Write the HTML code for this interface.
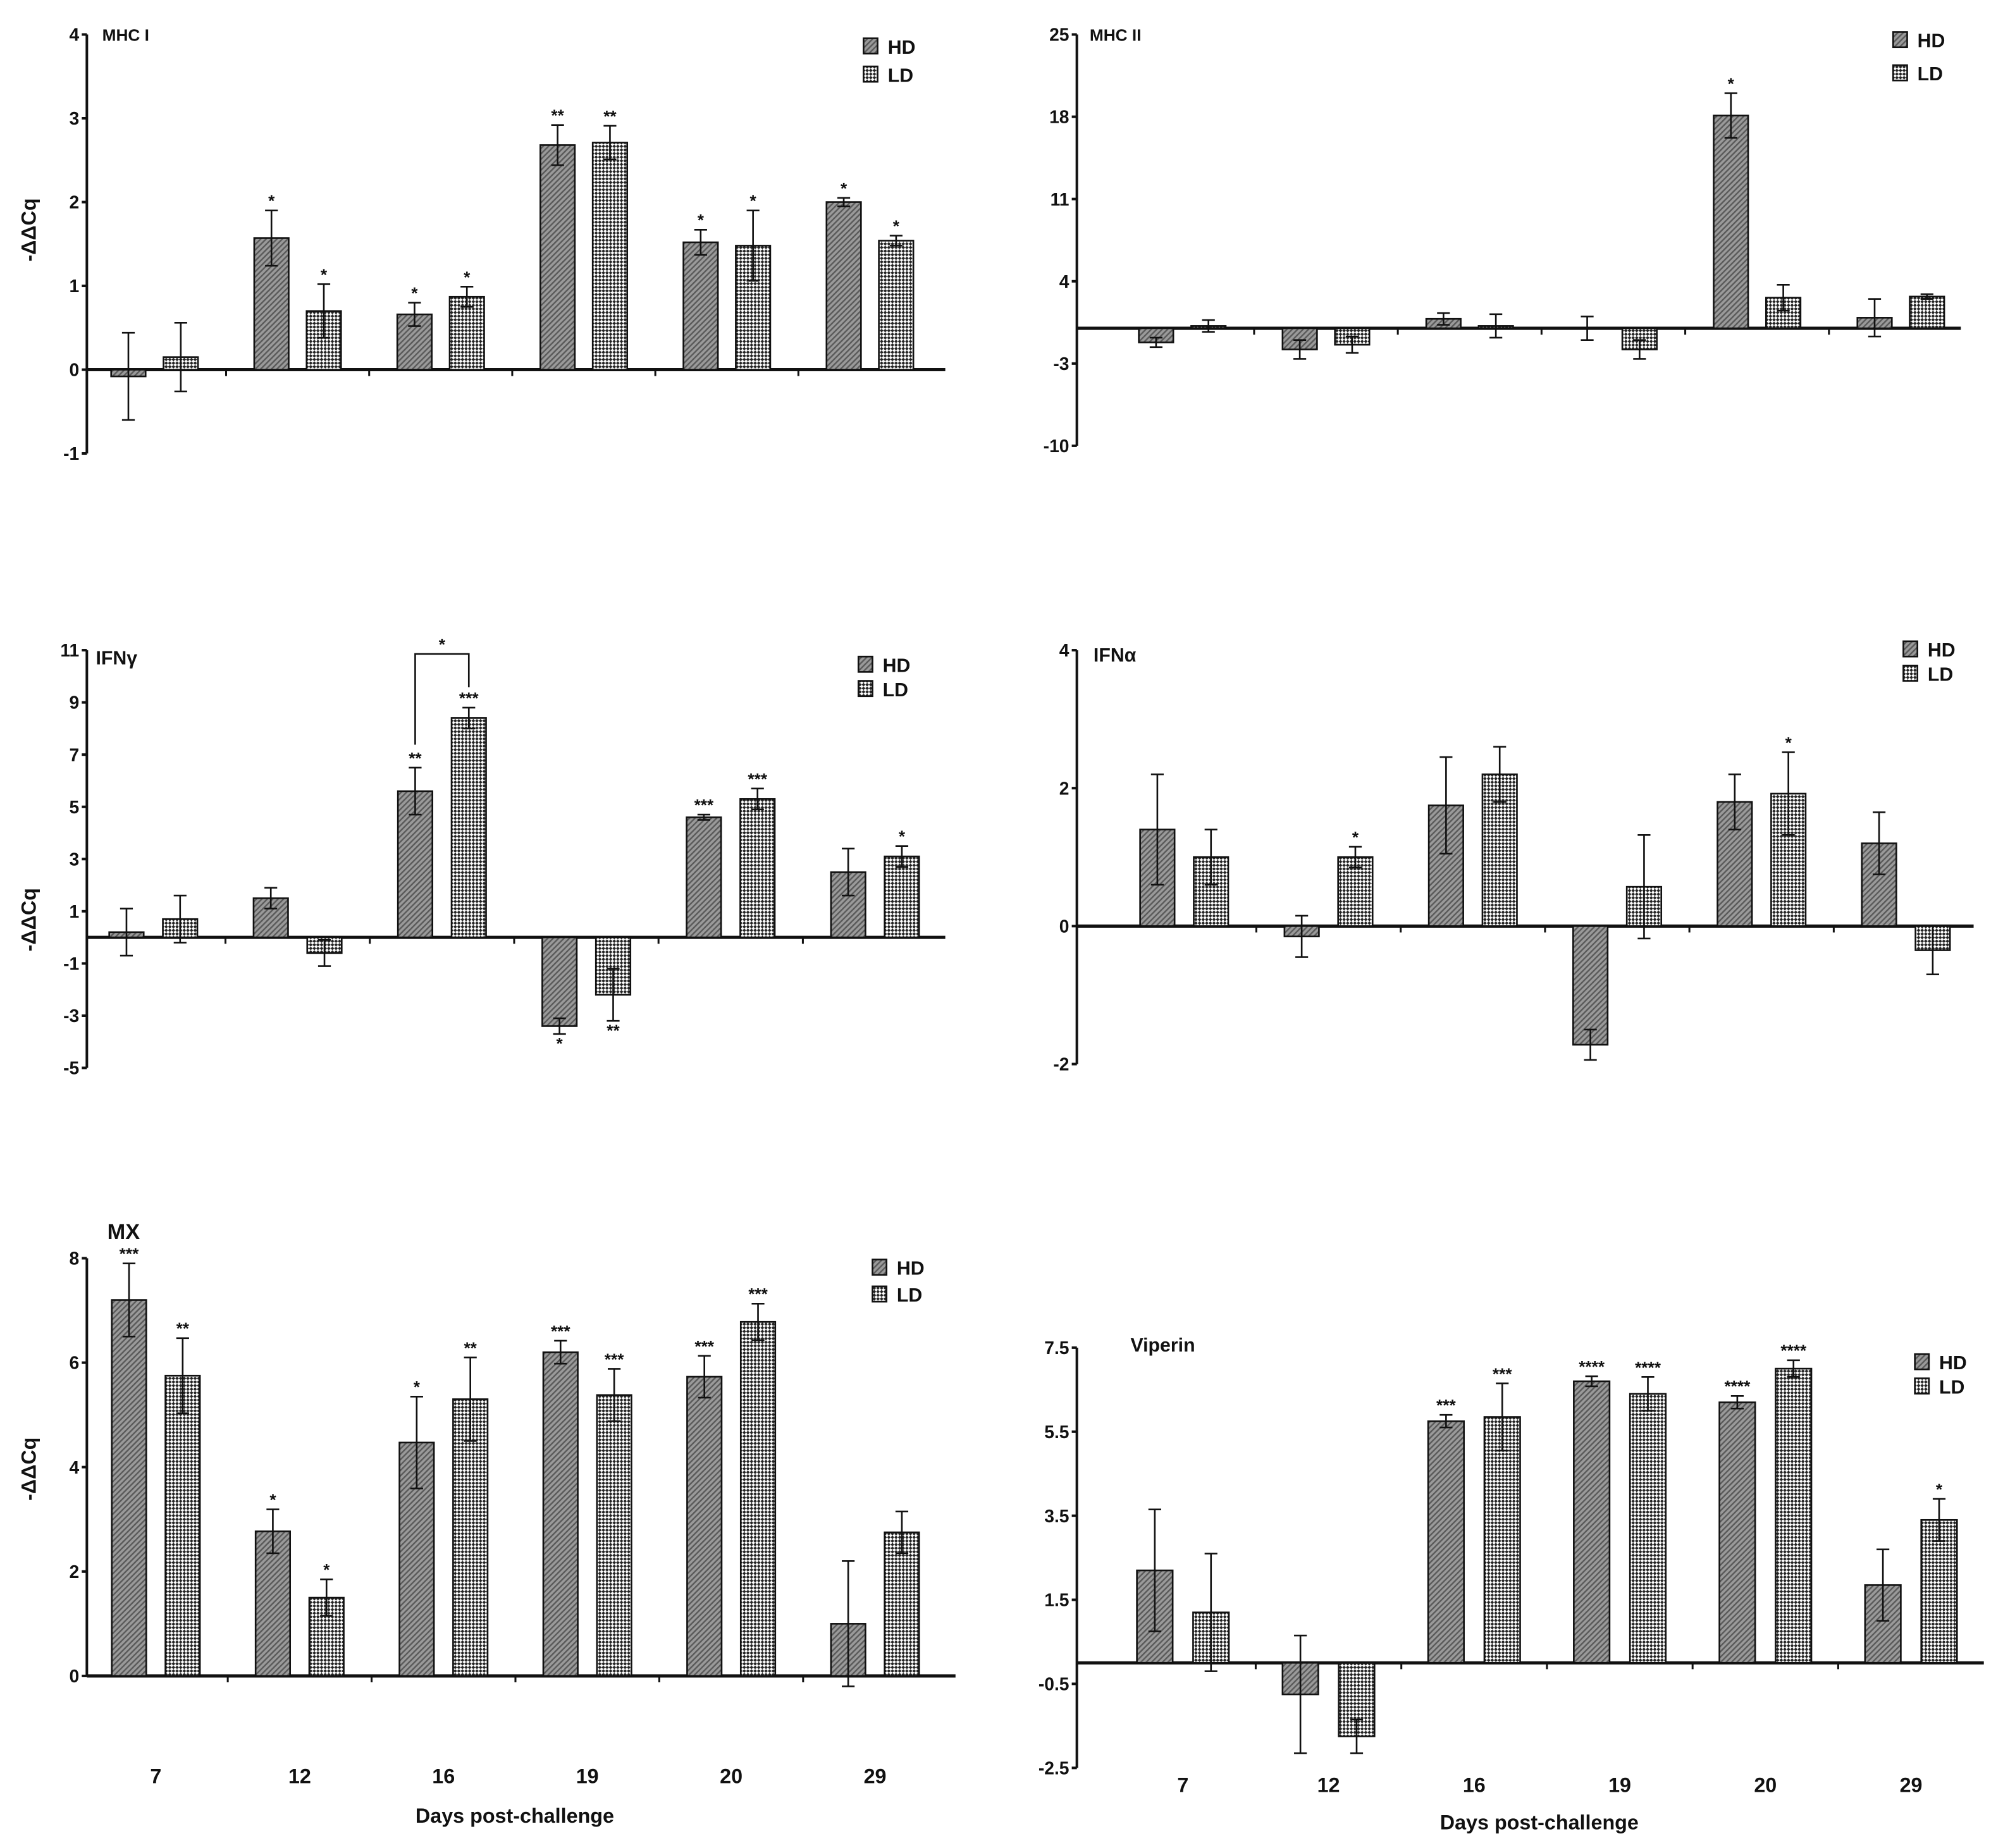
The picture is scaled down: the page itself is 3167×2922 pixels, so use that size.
<!DOCTYPE html>
<html><head><meta charset="utf-8">
<style>
html,body{margin:0;padding:0;background:#fff;}
svg{display:block;}
text{font-family:"Liberation Sans",Arial,sans-serif;font-weight:bold;fill:#111;}
</style></head>
<body>
<svg id="fig" width="3167" height="2922" viewBox="0 0 1568 1446.7" xmlns="http://www.w3.org/2000/svg">
<defs>
<pattern id="hatch" width="3" height="3" patternUnits="userSpaceOnUse" patternTransform="rotate(45)">
<rect width="3" height="3" fill="#9a9a9a"/><rect width="1.2" height="3" fill="#5a5a5a"/>
</pattern>
<pattern id="check" width="4" height="4" patternUnits="userSpaceOnUse" patternTransform="rotate(45)">
<rect width="4" height="4" fill="#fff"/><rect width="2" height="2" fill="#222"/><rect x="2" y="2" width="2" height="2" fill="#222"/>
</pattern>
</defs>
</svg>
<script>
const days = ["7","12","16","19","20","29"];
// MHC I
const mhc1HD = [-0.08,1.57,0.66,2.68,1.52,2.0];
const mhc1HDerr = [0.52,0.33,0.14,0.24,0.15,0.05];
const mhc1LD = [0.15,0.70,0.87,2.71,1.48,1.54];
const mhc1LDerr = [0.41,0.32,0.12,0.20,0.42,0.06];
const mhc1HDstar = ["","*","*","**","*","*"];
const mhc1LDstar = ["","*","*","**","*","*"];
const mhc1Ticks = [4,3,2,1,0,-1];
// MHC II
const mhc2HD = [-1.2,-1.8,0.8,0,18.1,0.9];
const mhc2HDerr = [0.4,0.8,0.5,1.0,1.9,1.6];
const mhc2LD = [0.2,-1.4,0.2,-1.8,2.6,2.7];
const mhc2LDerr = [0.5,0.7,1.0,0.8,1.1,0.2];
const mhc2HDstar = ["","","","","*",""];
const mhc2LDstar = ["","","","","",""];
const mhc2Ticks = [25,18,11,4,-3,-10];
// IFN gamma
const ifngHD = [0.2,1.5,5.6,-3.4,4.6,2.5];
const ifngHDerr = [0.9,0.4,0.9,0.3,0.1,0.9];
const ifngLD = [0.7,-0.6,8.4,-2.2,5.3,3.1];
const ifngLDerr = [0.9,0.5,0.4,1.0,0.4,0.4];
const ifngHDstar = ["","","**","*","***",""];
const ifngLDstar = ["","","***","**","***","*"];
const ifngTicks = [11,9,7,5,3,1,-1,-3,-5];
// IFN alpha
const ifnaHD = [1.4,-0.15,1.75,-1.72,1.8,1.2];
const ifnaHDerr = [0.8,0.3,0.7,0.22,0.4,0.45];
const ifnaLD = [1.0,1.0,2.2,0.57,1.92,-0.35];
const ifnaLDerr = [0.4,0.15,0.4,0.75,0.6,0.35];
const ifnaHDstar = ["","","","","",""];
const ifnaLDstar = ["","*","","","*",""];
const ifnaTicks = [4,2,0,-2];
// MX
const mxHD = [7.2,2.77,4.47,6.2,5.73,1.0];
const mxHDerr = [0.7,0.42,0.88,0.22,0.4,1.2];
const mxLD = [5.75,1.5,5.3,5.38,6.78,2.75];
const mxLDerr = [0.72,0.35,0.8,0.5,0.35,0.4];
const mxHDstar = ["***","*","*","***","***",""];
const mxLDstar = ["**","*","**","***","***",""];
const mxTicks = [8,6,4,2,0];
// Viperin
const vipHD = [2.2,-0.75,5.75,6.7,6.2,1.85];
const vipHDerr = [1.45,1.4,0.15,0.12,0.15,0.85];
const vipLD = [1.2,-1.75,5.85,6.4,7.0,3.4];
const vipLDerr = [1.4,0.4,0.8,0.4,0.2,0.5];
const vipHDstar = ["","","***","****","****",""];
const vipLDstar = ["","","***","****","****","*"];
const vipTicks = [7.5,5.5,3.5,1.5,-0.5,-2.5];

const svg = document.getElementById('fig');
const NS = 'http://www.w3.org/2000/svg';
function mk(tag, attrs, parent){
  const e = document.createElementNS(NS, tag);
  for (const k in attrs) e.setAttribute(k, attrs[k]);
  (parent||svg).appendChild(e);
  return e;
}
function txt(s, x, y, size, anchor, parent){
  const t = mk('text', {x:x, y:y, 'font-size':size, 'text-anchor':anchor||'start'}, parent);
  t.textContent = s;
  return t;
}

function panel(p){
  const g = mk('g', {});
  
  
  const vmax = p.ticks[0], vmin = p.ticks[p.ticks.length-1];
  const Y = v => p.yTop + (vmax - v) / (vmax - vmin) * (p.yBot - p.yTop);
  const X = (i, s) => p.c0 + i * p.dx + s * p.off;
  const y0 = Y(0);
  // y axis
  const ya = mk('line', {x1:p.ax, y1:p.yTop, x2:p.ax, y2:p.yBot, stroke:'#111', 'stroke-width':2}, g);
  
  
  p.ticks.forEach(t => {
    mk('line', {x1:p.ax-4, y1:Y(t), x2:p.ax, y2:Y(t), stroke:'#111', 'stroke-width':2}, g);
    const tl = txt(String(t), p.ax-6, Y(t)+5, 14, 'end', g);
    
    
  });
  // x axis (zero line)
  const xa = mk('line', {x1:p.ax, y1:y0, x2:p.xEnd, y2:y0, stroke:'#111', 'stroke-width':2.5}, g);
  
  
  for (let i = 1; i < days.length; i++) {
    const tx = p.c0 + (i - 0.5) * p.dx;
    mk('line', {x1:tx, y1:y0, x2:tx, y2:y0+5, stroke:'#111', 'stroke-width':1.5}, g);
  }
  const series = [
    {v:p.hd, e:p.hde, s:p.hds, side:-1, fill:'url(#hatch)', nm:'hd'},
    {v:p.ld, e:p.lde, s:p.lds, side:1, fill:'url(#check)', nm:'ld'}
  ];
  series.forEach(sr => {
    sr.v.forEach((v, i) => {
      const cx = X(i, sr.side);
      const yv = Y(v);
      const b = mk('rect', {x:cx-p.bw/2, y:Math.min(yv,y0), width:p.bw, height:Math.max(Math.abs(y0-yv),0.5), fill:sr.fill, stroke:'#111', 'stroke-width':1.3}, g);
      
      
      const e = sr.e[i];
      const yt = Y(v + e), yb = Y(v - e);
      const eb = mk('path', {d:`M${cx},${yt}V${yb}M${cx-5},${yt}H${cx+5}M${cx-5},${yb}H${cx+5}`, stroke:'#111', 'stroke-width':1.3, fill:'none'}, g);
      
      
      if (sr.s[i]) {
        const sy = v >= 0 ? yt - 3 : yb + 12;
        const st = txt(sr.s[i], cx, sy, 13, 'middle', g);
        
        
      }
    });
  });
  // title
  const ti = txt(p.title, p.tx, p.ty, p.tsize, 'start', g);
  
  
  // legend
  const lg = mk('g', {}, g);
  
  
  [['HD','url(#hatch)'],['LD','url(#check)']].forEach((L, k) => {
    const ly = p.ly + k * p.lgap;
    mk('rect', {x:p.lx, y:ly-6, width:11, height:12, fill:L[1], stroke:'#111', 'stroke-width':1.3}, lg);
    const lt = txt(L[0], p.lx+19, ly+6, 15, 'start', lg);
    
    
  });
  if (p.ylab) {
    const yl = txt('-\u0394\u0394Cq', 0, 0, 16, 'middle', g);
    yl.setAttribute('transform', `translate(${p.ax-40},${p.ylabY}) rotate(-90)`);
    
    
  }
  if (p.xlab) {
    days.forEach((d, i) => {
      const dl = txt(d, p.c0 + i * p.dx, p.xlabY, 16, 'middle', g);
      
      
    });
    const xt = txt('Days post-challenge', p.xtX, p.xtY, 16, 'middle', g);
    
    
  }
  return {X, Y, g};
}

panel({id:'mhc-i', ticks:mhc1Ticks, yTop:27, yBot:355, ax:68, xEnd:740, c0:121, dx:112, off:20.5, bw:27,
  hd:mhc1HD, hde:mhc1HDerr, ld:mhc1LD, lde:mhc1LDerr, hds:mhc1HDstar, lds:mhc1LDstar,
  title:'MHC I', tx:80, ty:32, tsize:13, lx:676, ly:36, lgap:22, ylab:true, ylabY:180});
panel({id:'mhc-ii', ticks:mhc2Ticks, yTop:27, yBot:349, ax:843, xEnd:1535, c0:925.5, dx:112.5, off:20.5, bw:27,
  hd:mhc2HD, hde:mhc2HDerr, ld:mhc2LD, lde:mhc2LDerr, hds:mhc2HDstar, lds:mhc2LDstar,
  title:'MHC II', tx:853, ty:32, tsize:13, lx:1482, ly:31, lgap:26, ylab:false});
const ig = panel({id:'ifn-gamma', ticks:ifngTicks, yTop:509, yBot:836, ax:68, xEnd:740, c0:120, dx:113, off:21, bw:27,
  hd:ifngHD, hde:ifngHDerr, ld:ifngLD, lde:ifngLDerr, hds:ifngHDstar, lds:ifngLDstar,
  title:'IFN\u03b3', tx:75, ty:520, tsize:15, lx:672, ly:520, lgap:19, ylab:true, ylabY:720});
// comparison bracket day 16
(function(){
  const x1 = ig.X(2,-1), x2 = ig.X(2,1), yb = 512;
  const br = mk('path', {d:`M${x1},${ig.Y(ifngHD[2]+ifngHDerr[2])-18}V${yb}H${x2}V${ig.Y(ifngLD[2]+ifngLDerr[2])-16}`, stroke:'#111', 'stroke-width':1.3, fill:'none'}, ig.g);
  
  
  const st = txt('*', (x1+x2)/2, yb-3, 13, 'middle', ig.g);
  
  
})();
panel({id:'ifn-alpha', ticks:ifnaTicks, yTop:509, yBot:833, ax:843, xEnd:1545, c0:927, dx:113, off:21, bw:27,
  hd:ifnaHD, hde:ifnaHDerr, ld:ifnaLD, lde:ifnaLDerr, hds:ifnaHDstar, lds:ifnaLDstar,
  title:'IFN\u03b1', tx:856, ty:518, tsize:15, lx:1490, ly:508, lgap:19, ylab:false});
panel({id:'mx', ticks:mxTicks, yTop:985, yBot:1312, ax:68, xEnd:748, c0:122, dx:112.6, off:21, bw:27,
  hd:mxHD, hde:mxHDerr, ld:mxLD, lde:mxLDerr, hds:mxHDstar, lds:mxLDstar,
  title:'MX', tx:84, ty:970, tsize:17, lx:683, ly:992, lgap:21, ylab:true, ylabY:1150,
  xlab:true, xlabY:1396, xtX:403, xtY:1427});
panel({id:'viperin', ticks:vipTicks, yTop:1055, yBot:1384, ax:843, xEnd:1553, c0:926, dx:114, off:22, bw:28,
  hd:vipHD, hde:vipHDerr, ld:vipLD, lde:vipLDerr, hds:vipHDstar, lds:vipLDstar,
  title:'Viperin', tx:885, ty:1058, tsize:15, lx:1499, ly:1066, lgap:19, ylab:false,
  xlab:true, xlabY:1403, xtX:1205, xtY:1432});
</script>
</body></html>
